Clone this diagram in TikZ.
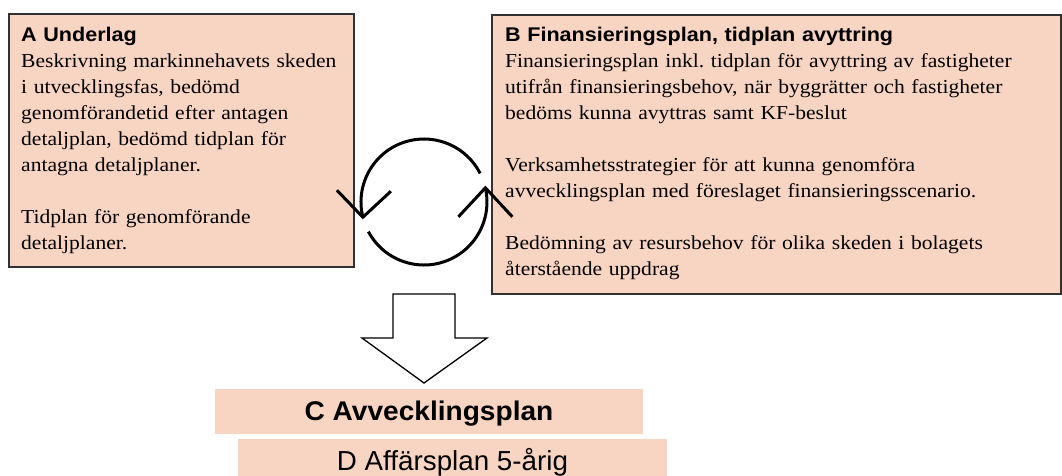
\documentclass[tikz,border=0pt]{standalone}
\usepackage{fontspec}
\setmainfont{Liberation Serif}[FakeStretch=1.09]
\setsansfont{Liberation Sans}[FakeStretch=1.09]
\newfontfamily\cfont{Liberation Sans}[FakeStretch=1.04]
\newfontfamily\dfont{Liberation Sans}[FakeStretch=1.01]
\usetikzlibrary{calc}
\definecolor{peach}{RGB}{248,213,195}
\definecolor{edgegray}{RGB}{50,50,50}
\frenchspacing
\begin{document}
\begin{tikzpicture}[x=1pt,y=1pt,
  panel/.style={draw=edgegray, line width=1.3pt, fill=peach, anchor=north west, inner sep=0pt, outer sep=0pt},
  bodytext/.style={anchor=base west, inner sep=0pt, align=left, text width=560pt,
    font=\frenchspacing\fontsize{19.8}{26}\selectfont},
  cyc/.style={line width=3pt, draw=black},
  bandbox/.style={fill=peach, inner sep=0pt, outer sep=0pt},
  blockarrow/.style={draw=black, line width=1.3pt, fill=white, line join=miter}
]
\useasboundingbox (0,0) rectangle (1062,476);

% Panel A
\node[panel, minimum width=345pt, minimum height=253pt] (A) at (9,462) {};
\node[bodytext] (Atext) at (21,434) {{\sffamily\bfseries A Underlag}\\
Beskrivning markinnehavets skeden\\
i utvecklingsfas, bedömd\\
genomförandetid efter antagen\\
detaljplan, bedömd tidplan för\\
antagna detaljplaner.\\[26pt]
Tidplan för genomförande\\
detaljplaner.};

% Panel B
\node[panel, minimum width=569pt, minimum height=279pt] (B) at (492,461) {};
\node[bodytext] (Btext) at (505,434) {{\sffamily\bfseries B Finansieringsplan, tidplan avyttring}\\
Finansieringsplan inkl. tidplan för avyttring av fastigheter\\
utifrån finansieringsbehov, när byggrätter och fastigheter\\
bedöms kunna avyttras samt KF-beslut\\[26pt]
Verksamhetsstrategier för att kunna genomföra\\
avvecklingsplan med föreslaget finansieringsscenario.\\[26pt]
Bedömning av resursbehov för olika skeden i bolagets\\
återstående uppdrag};

% Cycle symbol
\coordinate (O) at (424,274);
\draw[cyc] ($(O)+(194:63pt)$) coordinate (t1) arc[start angle=194, end angle=27, radius=63pt];
\draw[cyc] ($(O)+(208:63pt)$) arc[start angle=208, end angle=373, radius=63pt] coordinate (t2);
\draw[cyc] ($(t1)+(-26,27)$) -- (t1) -- ($(t1)+(28,26)$);
\draw[cyc] ($(t2)+(-27,-29)$) -- (t2) -- ($(t2)+(27,-29)$);

% Block arrow
\coordinate (a1) at (393,182);
\coordinate (a2) at (455,182);
\coordinate (a3) at (455,138);
\coordinate (a4) at (487,138);
\coordinate (a5) at (424,93);
\coordinate (a6) at (362,138);
\coordinate (a7) at (393,138);
\draw[blockarrow] (a1) -- (a2) -- (a3) -- (a4) -- (a5) -- (a6) -- (a7) -- cycle;

% C and D
\node[bandbox, minimum width=428pt, minimum height=45pt, text height=24pt, text depth=5.6pt,
  font=\cfont\bfseries\fontsize{27}{30}\selectfont] (C) at (429,64.5) {C Avvecklingsplan};
\node[bandbox, minimum width=429pt, minimum height=37pt, text height=30pt, text depth=3pt,
  font=\dfont\fontsize{27.5}{30}\selectfont] (D) at (452.5,18.5) {D Affärsplan 5-årig};
\end{tikzpicture}
\end{document}
